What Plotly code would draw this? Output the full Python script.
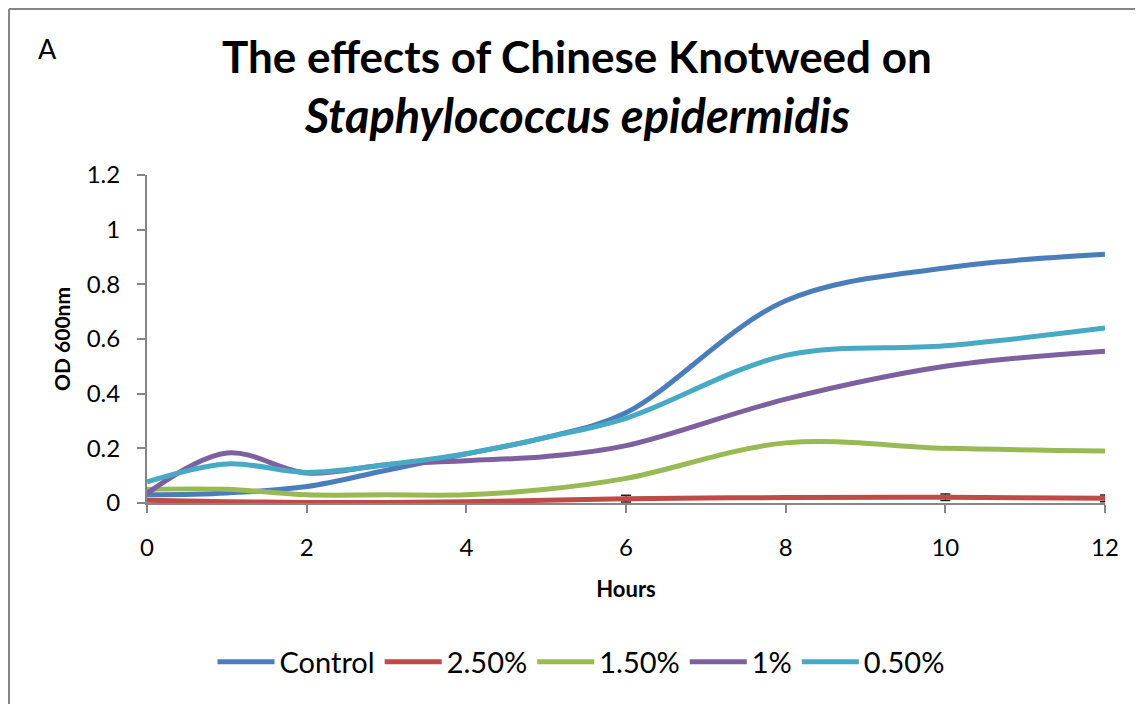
import plotly.graph_objects as go

# ================= DATA =================
hours = [0, 1, 2, 3, 4, 5, 6, 8, 10, 12]

control = [0.03, 0.037, 0.06, 0.12, 0.18, 0.24, 0.33, 0.74, 0.86, 0.91]
conc_250 = [0.01, 0.005, 0.002, 0.002, 0.005, 0.01, 0.016, 0.02, 0.021, 0.017]
conc_150 = [0.05, 0.05, 0.03, 0.03, 0.03, 0.05, 0.09, 0.22, 0.2, 0.19]
conc_100 = [0.035, 0.183, 0.11, 0.14, 0.155, 0.17, 0.21, 0.38, 0.5, 0.555]
conc_050 = [0.077, 0.143, 0.112, 0.14, 0.18, 0.24, 0.31, 0.54, 0.575, 0.64]

err_250 = [0, 0, 0, 0, 0, 0, 0.012, 0, 0.012, 0.012]

series = [
    ("Control", control, "#4A7EBB"),
    ("2.50%", conc_250, "#BE4B48"),
    ("1.50%", conc_150, "#98B954"),
    ("1%", conc_100, "#7D60A0"),
    ("0.50%", conc_050, "#46AAC5"),
]

FONT = "Lato"
AXIS = "#868686"

# ================= FIGURE =================
fig = go.Figure()
for name, vals, col in series:
    kw = {}
    if name == "2.50%":
        kw["error_y"] = dict(type="data", array=err_250, visible=True,
                             color="#222222", thickness=1.5, width=5)
    fig.add_trace(go.Scatter(x=hours, y=vals, name=name, mode="lines",
                             line=dict(color=col, width=5, shape="spline", smoothing=1),
                             **kw))

# page body has an 8px margin, so work in screen px and shift
OFF = 8
W, H = 1143 - OFF, 704 - OFF
L, R, T, B = 147 - OFF, 1105 - OFF, 175 - OFF, 503 - OFF
pw, ph = R - L, B - T

def px(x):
    return (x - OFF - L) / pw

def py(y):
    return (B - (y - OFF)) / ph

fig.update_layout(
    width=W, height=H,
    margin=dict(l=L, r=W - R, t=T, b=H - B),
    paper_bgcolor="white", plot_bgcolor="white",
    font=dict(family=FONT, color="black"),
    showlegend=True,
    legend=dict(orientation="h", x=px(581), xanchor="center", y=py(662), yanchor="middle",
                font=dict(size=29, family=FONT), itemwidth=57, traceorder="normal"),
    xaxis=dict(range=[0, 12], tickvals=[0, 2, 4, 6, 8, 10, 12], showgrid=False,
               zeroline=False, showline=True, linecolor=AXIS, linewidth=2,
               ticks="outside", tickcolor=AXIS, ticklen=8, tickwidth=2,
               ticklabelstandoff=14,
               tickfont=dict(size=24, family=FONT),
               title=dict(text="<b>Hours</b>", font=dict(size=22, family=FONT), standoff=22)),
    yaxis=dict(range=[0, 1.2], tickvals=[0, 0.2, 0.4, 0.6, 0.8, 1, 1.2],
               ticktext=["0", "0.2", "0.4", "0.6", "0.8", "1", "1.2"], showgrid=False,
               zeroline=False, showline=True, linecolor=AXIS, linewidth=2,
               ticks="outside", tickcolor=AXIS, ticklen=8, tickwidth=2,
               ticklabelstandoff=12,
               tickfont=dict(size=24, family=FONT),
               title=dict(text="<b>OD 600nm</b>", font=dict(size=21, family=FONT), standoff=10)),
)

fig.add_annotation(text="<b>The effects of Chinese Knotweed on</b>", x=px(577), y=py(56),
                   xref="paper", yref="paper", showarrow=False,
                   font=dict(size=44, family=FONT), xanchor="center", yanchor="middle")
fig.add_annotation(text="<b><i>Staphylococcus epidermidis</i></b>", x=px(577), y=py(115),
                   xref="paper", yref="paper", showarrow=False,
                   font=dict(size=47, family=FONT), xanchor="center", yanchor="middle")
fig.add_annotation(text="A", x=px(47), y=py(48), xref="paper", yref="paper",
                   showarrow=False, font=dict(size=27, family=FONT),
                   xanchor="center", yanchor="middle")

# outer frame (top and left only visible)
fig.add_shape(type="line", xref="paper", yref="paper", x0=px(OFF + 1), x1=px(1143),
              y0=py(OFF + 1), y1=py(OFF + 1), line=dict(color=AXIS, width=2))
fig.add_shape(type="line", xref="paper", yref="paper", x0=px(OFF + 1), x1=px(OFF + 1),
              y0=py(OFF + 1), y1=py(704), line=dict(color=AXIS, width=2))

fig.write_html("out.html")
